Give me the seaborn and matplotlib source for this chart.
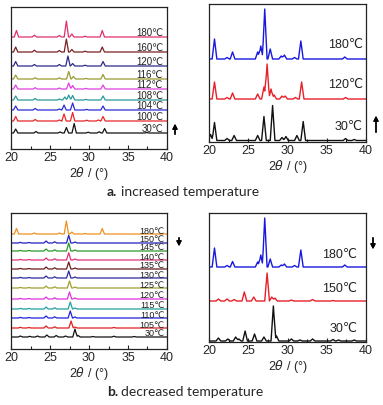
import matplotlib.pyplot as plt
import seaborn as sns

sns.set_theme(style='white')
plt.rcParams['font.family'] = ['Liberation Sans Narrow', 'Liberation Sans', 'DejaVu Sans']

# ---- data: peak lists (2theta, height) ----
# a. increased temperature, left panel (bottom to top)
a_left_labels = ['30℃', '100℃', '104℃', '108℃', '112℃', '116℃', '120℃', '160℃', '180℃']
a_left_colors = ['#111111', '#e8262a', '#2b2bd8', '#2a9a9a', '#e040e0',
                 '#9a9a30', '#2a2a8a', '#7a2020', '#e0306a']
a_left_offsets = [16, 28, 39, 49, 60, 70, 83, 97, 112]
a_left_peaks = [
    [(20.6, 4), (23.2, 1.5), (26.3, 1), (27.1, 5.5), (28.1, 9.5), (29.9, 0.8), (31.3, 1.2), (32.0, 4.5), (37.4, 0.5)],
    [(20.6, 4.5), (23.1, 1.5), (26.2, 1), (26.8, 7), (27.9, 8.5), (29.7, 0.8), (31.2, 1), (31.8, 4.5)],
    [(20.6, 4), (23.1, 1.5), (26.2, 1), (26.8, 5), (27.9, 7), (29.7, 0.6), (31.8, 4)],
    [(20.6, 4), (23.1, 1.5), (26.2, 1), (26.9, 3), (27.4, 5), (27.9, 4.5), (29.6, 0.6), (31.8, 4)],
    [(20.6, 4), (23.1, 1.3), (26.2, 1), (27.4, 6), (27.9, 3.5), (29.6, 0.6), (31.8, 4)],
    [(20.6, 4), (23.1, 1.3), (26.2, 1.2), (27.4, 7.5), (28.0, 2.5), (29.6, 0.6), (31.8, 4.5)],
    [(20.6, 4.5), (23.0, 1.5), (26.2, 1.5), (27.3, 10), (27.9, 2.5), (29.5, 0.8), (31.8, 4.5)],
    [(20.6, 5), (23.0, 1.8), (26.2, 1.5), (27.1, 13), (27.8, 2.5), (29.5, 0.8), (31.7, 5)],
    [(20.7, 6.5), (23.0, 1.8), (26.2, 1.5), (27.1, 16), (27.8, 3), (29.5, 0.8), (31.7, 6.5)],
]

# a. increased temperature, right panel
a_right_labels = ['30℃', '120℃', '180℃']
a_right_colors = ['#111111', '#e8202a', '#1818e0']
a_right_offsets = [1.5, 43, 83]
a_right_peaks = [
    [(20.2, 6), (20.7, 18), (22.3, 2), (23.2, 5), (26.2, 5), (27.0, 24), (28.1, 35), (29.3, 3),
     (29.8, 4), (31.2, 5), (32.0, 19), (37.4, 2), (38.5, 1)],
    [(20.7, 17), (22.3, 1.5), (23.0, 6), (26.2, 5), (27.0, 12), (27.4, 35), (27.9, 10), (28.3, 4),
     (29.3, 3), (29.7, 3), (31.0, 1.5), (31.8, 17), (37.4, 1.5)],
    [(20.7, 20), (22.3, 1.5), (23.0, 7), (26.2, 7), (26.6, 13), (27.1, 50), (27.8, 10), (29.2, 3),
     (29.6, 4), (30.9, 1.5), (31.7, 18), (37.3, 2)],
]

# b. decreased temperature, left panel (bottom to top)
b_left_labels = ['30℃', '105℃', '110℃', '115℃', '120℃', '125℃',
                 '130℃', '135℃', '140℃', '145℃', '150℃', '180℃']
b_left_colors = ['#111111', '#e02020', '#2020e0', '#20a0a0', '#e030e0', '#a0a030',
                 '#2a2aa0', '#6a1a1a', '#e0307a', '#2a9a2a', '#2020c0', '#f0901e']
b_left_offsets = [12, 21, 31, 40, 50, 61, 71, 80, 89, 98, 106, 115]
b_left_peaks = [
    [(21.2, 1), (22.4, 0.7), (23.4, 1), (24.6, 2), (25.8, 1.5), (27.0, 1), (28.2, 8), (28.6, 1.5),
     (30.5, 0.5), (33.2, 0.8), (35.8, 0.5)],
    [(21.2, 0.7), (22.3, 0.5), (24.5, 2), (25.6, 1.2), (27.7, 7), (28.2, 1), (33.2, 0.5)],
    [(21.2, 0.6), (22.3, 0.5), (24.5, 2), (25.6, 1.2), (27.6, 7), (28.2, 1)],
    [(21.2, 0.6), (22.3, 0.5), (24.5, 2), (25.6, 1.2), (27.6, 7), (28.2, 1)],
    [(21.2, 0.6), (22.3, 0.5), (24.5, 2), (25.6, 1.2), (27.5, 7), (28.2, 1)],
    [(21.2, 0.6), (22.3, 0.5), (24.5, 2), (25.6, 1.2), (27.5, 7), (28.2, 1)],
    [(21.2, 0.6), (22.3, 0.5), (24.5, 2), (25.6, 1.2), (27.4, 7), (28.2, 1)],
    [(21.2, 0.6), (22.3, 0.5), (24.5, 2), (25.6, 1.2), (27.4, 7), (28.2, 1)],
    [(21.2, 0.6), (22.3, 0.5), (24.5, 2), (25.6, 1.2), (27.4, 7.3), (28.2, 1)],
    [(21.2, 0.6), (22.3, 0.5), (24.5, 2), (25.6, 1.2), (27.4, 8), (28.2, 1)],
    [(21.2, 0.6), (22.3, 0.5), (24.5, 2), (25.6, 1.2), (27.4, 7.7), (28.2, 1)],
    [(20.7, 5.5), (23.0, 1), (26.2, 1), (27.1, 13), (27.8, 2), (29.5, 0.5), (31.7, 5.5)],
]

# b. decreased temperature, right panel
b_right_labels = ['30℃', '150℃', '180℃']
b_right_colors = ['#111111', '#e8202a', '#1818e0']
b_right_offsets = [1, 41, 75]
b_right_peaks = [
    [(21.2, 3), (22.4, 2), (23.4, 4), (23.8, 2), (24.6, 10), (25.8, 7), (27.0, 4), (28.2, 35),
     (28.6, 5), (30.5, 2), (31.6, 1), (33.2, 2), (35.8, 1.5), (36.5, 1), (38.5, 1)],
    [(21.2, 2), (22.3, 2), (23.2, 1.5), (24.5, 9), (25.7, 4), (27.4, 28), (28.0, 4), (28.4, 3),
     (30.5, 1), (33.2, 1.5), (35.8, 0.5)],
    [(20.7, 19), (22.3, 1.5), (23.0, 5.5), (26.2, 5), (26.6, 12), (27.1, 49), (27.8, 8), (29.2, 2),
     (29.6, 3), (30.9, 1.5), (31.7, 17), (37.3, 2)],
]

W, H = 383, 405


def profile(peaks, w=0.3):
    # piecewise-linear pattern through the peak breakpoints
    xs = {20.0, 40.0}
    for p, h in peaks:
        xs.update([p - w, p, p + w])
    xs = sorted(x for x in xs if 20 <= x <= 40)
    ys = [sum(max(0.0, h * (1 - abs(x - p) / w)) for p, h in peaks) for x in xs]
    return xs, ys


def make_axes(fig, left, right, top, bottom):
    ax = fig.add_axes([left / W, 1 - bottom / H, (right - left) / W, (bottom - top) / H])
    ax.set_xlim(20, 40)
    ax.set_ylim(0, bottom - top)
    ax.set_yticks([])
    ax.set_xticks([20, 25, 30, 35, 40])
    ax.set_xticks([22.5, 27.5, 32.5, 37.5], minor=True)
    ax.tick_params(axis='x', which='both', direction='in', bottom=True, labelsize=9, pad=2,
                   color='#222222')
    ax.tick_params(axis='x', which='major', length=3, width=0.8)
    ax.tick_params(axis='x', which='minor', length=2, width=0.8)
    for s in ax.spines.values():
        s.set_color('#222222')
        s.set_linewidth(0.9)
    ax.set_xlabel('2$\\theta$ / (°)', fontsize=9, labelpad=1)
    return ax


def draw_stack(ax, peaks_list, offsets, colors, lw, w):
    for peaks, off, c in zip(peaks_list, offsets, colors):
        x, y = profile(peaks, w)
        sns.lineplot(x=x, y=[v + off for v in y], ax=ax, color=c, lw=lw,
                     estimator=None, sort=False)


fig = plt.figure(figsize=(W / 100, H / 100), dpi=100)

# a left
ax = make_axes(fig, 11, 167, 7, 149)
draw_stack(ax, a_left_peaks, a_left_offsets, a_left_colors, 0.9, 0.28)
for lab, off in zip(a_left_labels, a_left_offsets):
    ax.text(39.5, off + 1, lab, ha='right', va='baseline', fontsize=7, color='#222222')

# a right
ax = make_axes(fig, 209, 366, 4, 142)
draw_stack(ax, a_right_peaks, a_right_offsets, a_right_colors, 1.0, 0.3)
for lab, off in zip(a_right_labels, a_right_offsets):
    ax.text(39.6, off + 14, lab, ha='right', va='center', fontsize=9, color='#222222')

# b left
ax = make_axes(fig, 11, 167, 213, 349)
draw_stack(ax, b_left_peaks, b_left_offsets, b_left_colors, 0.9, 0.28)
for lab, off in zip(b_left_labels, b_left_offsets):
    ax.text(39.7, off + 0.5, lab, ha='right', va='baseline', fontsize=6.5, color='#222222')

# b right
ax = make_axes(fig, 209, 366, 213, 342)
draw_stack(ax, b_right_peaks, b_right_offsets, b_right_colors, 1.0, 0.3)
for lab, off in zip(b_right_labels, b_right_offsets):
    ax.text(38.9, off + 12, lab, ha='right', va='center', fontsize=9, color='#222222')

# arrows (figure pixels, origin bottom-left)
arrows = [(175, 137, 121), (376, 135, 113), (179, 235, 249), (373, 235, 252)]
for x, y0, y1 in arrows:
    fig.add_artist(plt.annotate('', xy=(x, H - y1), xytext=(x, H - y0),
                                xycoords='figure pixels', textcoords='figure pixels',
                                arrowprops=dict(arrowstyle='-|>', color='black', lw=1,
                                                mutation_scale=7)))

# captions
cap_font = ['Lato', 'DejaVu Sans']
for y, letter, word in [(192, 'a.', 'increased temperature'), (392, 'b.', 'decreased temperature')]:
    fig.text(107 / W, 1 - y / H, letter, fontsize=10, fontweight='bold', va='center',
             family=cap_font)
    fig.text(121 / W, 1 - y / H, word, fontsize=10, va='center', family=cap_font)

fig.savefig('out.png', dpi=100)
